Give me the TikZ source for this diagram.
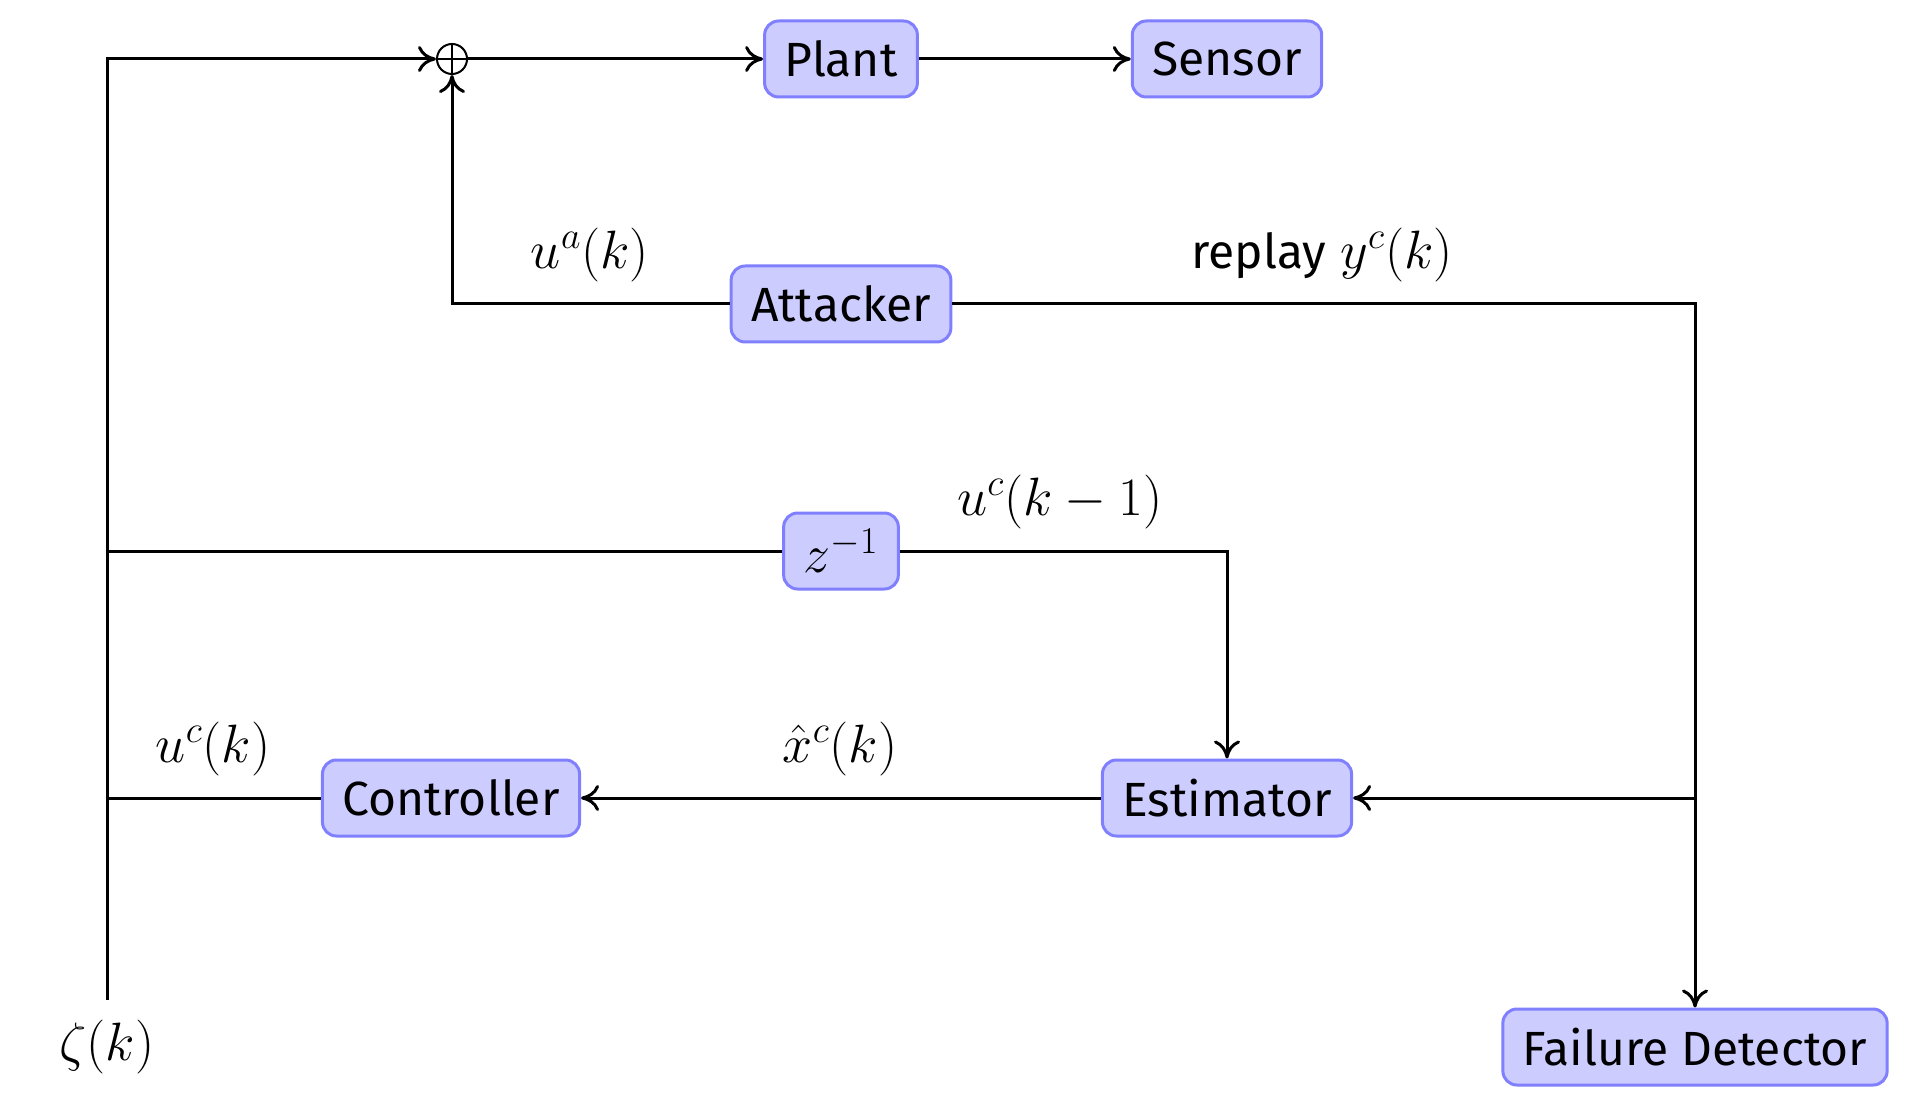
\RequirePackage{fix-cm}
\documentclass[tikz,border=0pt]{standalone}
\usepackage{fontspec}
\setmainfont{Fira Sans}
\usetikzlibrary{arrows.meta,calc}
\begin{document}
\begin{tikzpicture}[x=0.5pt,y=-0.5pt,
  every node/.style={font=\fontsize{24}{28}\selectfont},
  block/.style={draw={rgb,255:red,128;green,128;blue,255},fill={rgb,255:red,204;green,204;blue,255},
    line width=1.5pt,rounded corners=7pt,minimum height=38pt,inner xsep=10pt},
  wire/.style={line width=1.5pt},
  arr/.style={wire,-{Computer Modern Rightarrow[length=9pt,width=13pt]}},
  lab/.style={inner sep=0pt,font=\fontsize{27}{32}\selectfont}]
\useasboundingbox (0,0) rectangle (1920,1112);
\node[circle,draw,line width=1pt,minimum size=15pt,inner sep=0pt] (sum) at (452,59) {};
\draw[line width=1pt] (sum.north) -- (sum.south) (sum.west) -- (sum.east);
\node[block] (plant) at (841,59) {Plant};
\node[block] (sensor) at (1227,59) {Sensor};
\node[block] (attacker) at (841,304) {Attacker};
\node[block,font=\fontsize{27}{32}\selectfont] (zinv) at (841,551) {$z^{-1}$};
\node[block] (estimator) at (1227,798) {Estimator};
\node[block] (controller) at (451,798) {Controller};
\node[block] (fd) at (1695,1047) {Failure Detector};
\node[lab] (zeta) at (107,1047) {$\zeta(k)$};
\coordinate (zb) at (107,1000);
\coordinate (br) at (fd.north |- estimator.east);
\node[lab] (lua) at (590,255) {$u^a(k)$};
\node[lab] (lrep) at (1322,255) {{\fontsize{24}{28}\selectfont replay} $y^c(k)$};
\node[lab] (luc1) at (1060,502) {$u^c(k-1)$};
\node[lab] (lxh) at (840,749) {$\hat{x}^c(k)$};
\node[lab] (luc) at (213,749) {$u^c(k)$};
\draw[arr] (zb) |- (sum.west);
\draw[wire] (zinv.west) -- (zinv.west -| zb);
\draw[wire] (controller.west) -- (controller.west -| zb);
\draw[arr] (sum.east) -- (plant.west);
\draw[arr] (plant.east) -- (sensor.west);
\draw[arr] (attacker.west) -| (sum.south);
\draw[arr] (attacker.east) -| (fd.north);
\draw[arr] (br) -- (estimator.east);
\draw[arr] (zinv.east) -| (estimator.north);
\draw[arr] (estimator.west) -- (controller.east);
\end{tikzpicture}
\end{document}
